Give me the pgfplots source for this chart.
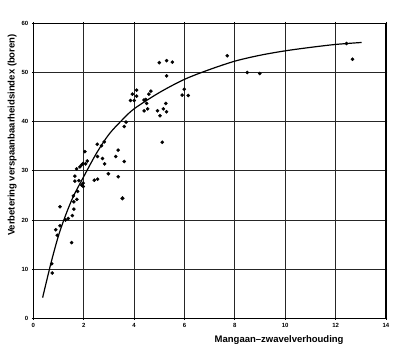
\documentclass[border=0pt]{standalone}
\usepackage{fontspec}
\setmainfont{Liberation Sans}
\usepackage{pgfplots}
\pgfplotsset{compat=1.18}
\begin{document}
\begin{tikzpicture}[x=1pt,y=1pt]
\path[use as bounding box] (-33.3,-33.7) rectangle (366.7,318.3);
\begin{axis}[
  scale only axis, width=352.7pt, height=295pt,
  at={(0,0)}, anchor=south west,
  xmin=0, xmax=14, ymin=0, ymax=60,
  xtick={0,2,...,14}, ytick={0,10,...,60},
  xmajorgrids=true, ymajorgrids=true,
  grid style={black!85, line width=0.8pt},
  axis line style={black, line width=1.4pt},
  major tick length=1.5pt,
  tick style={black, line width=0.8pt},
  tick align=outside,
  tick label style={font=\bfseries\fontsize{6}{7}\selectfont},
  /pgf/number format/assume math mode=true,
  xlabel={Mangaan--zwavelverhouding},
  ylabel={Verbetering verspaanbaarheidsindex (boren)},
  xlabel style={font=\bfseries\fontsize{9.5}{10}\selectfont, at={(axis description cs:0.697,-0.074)}, anchor=center},
  ylabel style={font=\bfseries\fontsize{9.5}{10}\selectfont, at={(axis description cs:-0.060,0.621)}, anchor=center},
]
\addplot[only marks, mark=*, mark size=1.6pt, black] coordinates {
(0.73,11.1) (0.75,9.2) (0.89,18.0) (0.95,16.9) (1.06,22.7) (1.06,18.8)
(1.28,20.0) (1.39,20.3) (1.52,15.4) (1.55,20.9) (1.59,24.9) (1.61,23.7)
(1.61,22.2) (1.65,28.9) (1.65,27.9) (1.72,30.4) (1.73,24.2) (1.76,25.8)
(1.81,28.0) (1.85,30.8) (1.92,31.2) (1.98,31.5) (1.92,27.1) (1.98,27.5)
(1.98,26.8) (2.05,33.9) (2.08,31.4) (2.14,32.0) (2.42,28.1) (2.55,28.3)
(2.54,35.4) (2.55,32.9) (2.71,35.1) (2.75,32.5) (2.82,35.9) (2.83,31.4)
(2.98,29.4) (3.27,32.9) (3.37,34.2) (3.37,28.8) (3.61,31.9)
(3.61,39.0) (3.68,39.9) (3.86,44.3) (3.93,45.6) (4.01,44.3) (4.10,46.4)
(4.10,45.2) (4.39,44.4) (4.40,42.2) (4.50,43.7) (4.54,42.6) (4.59,45.6)
(4.67,46.2) (4.46,44.5) (4.93,42.2) (5.00,52.0) (5.03,41.2) (5.12,35.8)
(5.16,42.6) (5.26,43.7) (5.29,52.4) (5.29,49.3) (5.29,42.0) (5.52,52.1)
(5.91,45.4) (5.99,46.6) (6.15,45.3) (7.70,53.4) (8.49,50.0) (8.99,49.8)
(12.43,55.9) (12.67,52.7)
};
\addplot[only marks, mark=*, mark size=1.9pt, black] coordinates {(3.54,24.4)};
\addplot[black, line width=1.2pt, smooth] coordinates {
(0.37,4.2) (0.7,11.2) (1.0,16.8) (1.3,21.2) (1.6,24.9) (2.0,28.8)
(2.5,33.5) (3.0,37.4) (3.5,40.2) (4.0,42.6) (5.0,45.9) (6.0,48.6)
(7.0,50.6) (8.0,52.3) (9.0,53.5) (10.0,54.4) (11.0,55.1) (12.0,55.7) (13.03,56.1)
};
\end{axis}
\end{tikzpicture}
\end{document}
